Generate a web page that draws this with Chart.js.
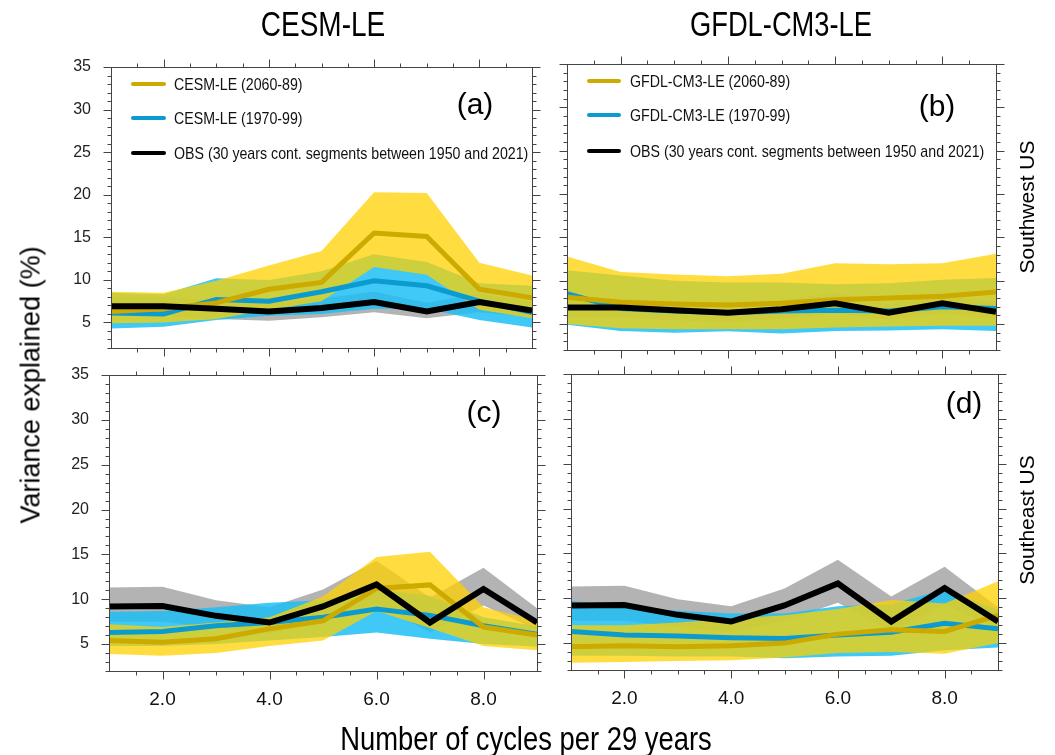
<!DOCTYPE html>
<html>
<head>
<meta charset="utf-8">
<script src="https://cdn.jsdelivr.net/npm/chart.js@4.4.0/dist/chart.umd.min.js"></script>
<style>
html,body{margin:0;padding:0;background:#fff;}
#wrap{position:relative;width:1055px;height:755px;overflow:hidden;background:#fff;font-family:"Liberation Sans",Arial,sans-serif;}
#wrap canvas{position:absolute;left:0;top:0;}
.t{position:absolute;white-space:nowrap;color:#000;line-height:1;}
.lg{position:absolute;height:4px;}
</style>
</head>
<body>
<div id="wrap">
<canvas id="pa" width="1055" height="755"></canvas>
<canvas id="pb" width="1055" height="755"></canvas>
<canvas id="pc" width="1055" height="755"></canvas>
<canvas id="pd" width="1055" height="755"></canvas>
</div>
<script>
// ---------------- DATA ----------------
const xVals = [1, 2, 3, 4, 5, 6, 7, 8, 9];
const xTickVals = [2, 4, 6, 8];
const yTickVals = [5, 10, 15, 20, 25, 30, 35];

const columnTitles = ['CESM-LE', 'GFDL-CM3-LE'];
const rowTitles = ['Southwest US', 'Southeast US'];
const panelLetters = ['(a)', '(b)', '(c)', '(d)'];
const legendCESM = ['CESM-LE (2060-89)', 'CESM-LE (1970-99)', 'OBS (30 years cont. segments between 1950 and 2021)'];
const legendGFDL = ['GFDL-CM3-LE (2060-89)', 'GFDL-CM3-LE (1970-99)', 'OBS (30 years cont. segments between 1950 and 2021)'];
const yTitle = 'Variance explained (%)';
const xTitle = 'Number of cycles per 29 years';

// Observations (shared by both columns of a row)
const swObs   = [6.9, 6.9, 6.6, 6.3, 6.7, 7.4, 6.3, 7.4, 6.4];
const swObsHi = [8.0, 8.0, 7.6, 7.3, 7.8, 8.6, 7.3, 8.4, 7.4];
const swObsLo = [5.8, 5.8, 5.4, 5.2, 5.6, 6.2, 5.5, 6.2, 5.6];
const seObs   = [9.2, 9.25, 8.15, 7.4, 9.2, 11.65, 7.4, 11.15, 7.4];
const seObsHi = [11.3, 11.4, 9.9, 9.1, 11.1, 14.3, 10.2, 13.5, 9.0];
const seObsLo = [7.5, 7.5, 6.8, 6.2, 7.5, 9.5, 6.3, 9.3, 6.6];

// (a) CESM-LE, Southwest US
const aFut   = [6.3, 6.6, 7.3, 8.9, 9.7, 15.5, 15.1, 8.9, 7.9];
const aFutHi = [8.6, 8.5, 9.9, 11.7, 13.4, 20.3, 20.2, 12.0, 10.5];
const aFutLo = [4.9, 5.0, 5.4, 6.5, 7.5, 11.5, 10.6, 6.5, 5.5];
const aHis   = [6.1, 6.0, 7.7, 7.5, 8.6, 9.9, 9.3, 7.5, 6.2];
const aHisHi = [8.5, 8.3, 10.2, 10.0, 11.0, 13.0, 12.1, 9.6, 9.3];
const aHisLo = [4.3, 4.5, 5.3, 5.8, 6.0, 6.6, 6.6, 5.3, 4.4];

// (b) GFDL-CM3-LE, Southwest US
const bFut   = [8.1, 7.5, 7.3, 7.2, 7.4, 7.8, 8.0, 8.2, 8.7];
const bFutHi = [12.8, 11.0, 10.7, 10.5, 10.8, 12.0, 11.9, 12.0, 13.1];
const bFutLo = [5.0, 4.5, 4.4, 4.4, 4.4, 4.6, 4.7, 4.8, 4.8];
const bHis   = [8.5, 6.8, 6.5, 6.3, 6.5, 6.6, 6.5, 7.0, 6.8];
const bHisHi = [11.2, 10.6, 10.0, 9.8, 9.8, 9.6, 9.7, 10.1, 10.3];
const bHisLo = [4.9, 4.2, 4.0, 4.15, 3.9, 4.2, 4.25, 4.4, 4.2];

// (c) CESM-LE, Southeast US
const cFut   = [5.4, 5.2, 5.6, 6.7, 7.6, 11.2, 11.6, 6.9, 6.0];
const cFutHi = [7.2, 6.9, 7.4, 8.0, 10.3, 14.7, 15.3, 9.1, 7.6];
const cFutLo = [3.9, 3.7, 4.0, 4.8, 5.4, 8.7, 6.8, 4.8, 4.3];
const cHis   = [6.3, 6.4, 7.05, 7.4, 8.0, 8.9, 8.2, 7.05, 6.1];
const cHisHi = [8.6, 8.7, 9.1, 9.6, 9.9, 11.1, 10.4, 8.0, 7.0];
const cHisLo = [4.8, 4.8, 5.0, 5.4, 5.8, 6.3, 5.6, 5.0, 4.7];

// (d) GFDL-CM3-LE, Southeast US
const dFut   = [4.6, 4.7, 4.6, 4.7, 5.0, 6.0, 6.5, 6.3, 8.1];
const dFutHi = [7.0, 7.0, 7.3, 7.7, 8.1, 8.8, 9.8, 9.4, 11.9];
const dFutLo = [2.8, 2.9, 3.0, 3.1, 3.4, 3.9, 4.0, 3.8, 5.0];
const dHis   = [6.3, 5.9, 5.8, 5.6, 5.5, 5.9, 6.2, 7.2, 6.6];
const dHisHi = [9.7, 9.0, 8.6, 8.3, 8.3, 9.1, 9.3, 11.0, 8.7];
const dHisLo = [3.6, 3.6, 3.5, 3.5, 3.3, 3.5, 3.6, 4.2, 4.5];

// ---------------- STYLE ----------------
const W = 1055, H = 755;
const COL = {
  futLine: '#ccaa00', futBand: 'rgba(255,210,0,0.75)',
  hisLine: '#0b9bd0', hisBand: 'rgba(30,190,245,0.85)',
  obsLine: '#000000', obsBand: 'rgba(160,160,160,0.8)'
};
const REG = '"Liberation Sans",Arial,sans-serif';
const YW = 60, YRW = 12, XH = 40, XTH = 12;

const pts = arr => xVals.map((x, i) => ({x: x, y: arr[i]}));

const frameTicks = {
  id: 'frameTicks',
  afterDraw(chart) {
    const ctx = chart.ctx, a = chart.chartArea, xs = chart.scales.x, ys = chart.scales.y;
    ctx.save();
    ctx.strokeStyle = '#444';
    ctx.lineWidth = 1;
    const L = Math.round(a.left) + 0.5, R = Math.round(a.right) + 0.5;
    const T = Math.round(a.top) + 0.5, B = Math.round(a.bottom) + 0.5;
    ctx.strokeRect(L, T, R - L, B - T);
    ctx.beginPath();
    for (let k = 3; k <= 17; k++) {
      const v = k / 2;
      const px = Math.round(xs.getPixelForValue(v)) + 0.5;
      const len = (k % 4 === 0) ? 8 : 4;
      ctx.moveTo(px, B); ctx.lineTo(px, B + len);
      ctx.moveTo(px, T); ctx.lineTo(px, T - len);
    }
    for (let v = 2; v <= 35; v++) {
      const py = Math.round(ys.getPixelForValue(v)) + 0.5;
      const len = (v % 5 === 0) ? 8 : 4;
      ctx.moveTo(L, py); ctx.lineTo(L - len, py);
      ctx.moveTo(R, py); ctx.lineTo(R + len, py);
    }
    ctx.stroke();
    ctx.restore();
  }
};

function makePanel(id, rect, s, showX, showY) {
  const hidden = {borderWidth: 0, borderColor: 'transparent', pointRadius: 0, fill: false};
  const datasets = [
    Object.assign({data: pts(s.obsLo), order: 40}, hidden),
    Object.assign({}, hidden, {data: pts(s.obsHi), order: 40, fill: '-1', backgroundColor: COL.obsBand}),
    Object.assign({data: pts(s.hisLo), order: 30}, hidden),
    Object.assign({}, hidden, {data: pts(s.hisHi), order: 30, fill: '-1', backgroundColor: COL.hisBand}),
    Object.assign({data: pts(s.futLo), order: 20}, hidden),
    Object.assign({}, hidden, {data: pts(s.futHi), order: 20, fill: '-1', backgroundColor: COL.futBand}),
    {data: pts(s.his), order: 3, borderColor: COL.hisLine, borderWidth: 5, pointRadius: 0, fill: false, tension: 0},
    {data: pts(s.fut), order: 2, borderColor: COL.futLine, borderWidth: 5, pointRadius: 0, fill: false, tension: 0},
    {data: pts(s.obs), order: 1, borderColor: COL.obsLine, borderWidth: 6, pointRadius: 0, fill: false, tension: 0}
  ];
  const noGrid = {display: false, drawTicks: false};
  new Chart(document.getElementById(id), {
    type: 'line',
    data: {datasets: datasets},
    options: {
      responsive: false, animation: false, devicePixelRatio: 1,
      layout: {padding: {left: rect.L - YW, right: W - rect.R - YRW, top: rect.T - XTH, bottom: H - rect.B - XH}},
      plugins: {legend: {display: false}, tooltip: {enabled: false}, filler: {drawTime: 'beforeDatasetsDraw'}},
      elements: {line: {borderCapStyle: 'butt', borderJoinStyle: 'miter'}},
      scales: {
        x: {
          type: 'linear', position: 'bottom', min: 1, max: 9,
          grid: noGrid, border: {display: false},
          afterBuildTicks: sc => { sc.ticks = xTickVals.map(v => ({value: v})); },
          afterFit: sc => { sc.height = XH; },
          ticks: {display: showX, padding: 17, maxRotation: 0, autoSkip: false, color: '#111',
                  font: {family: REG, size: 19}, callback: v => Number(v).toFixed(1)}
        },
        x2: {
          type: 'linear', position: 'top', min: 1, max: 9,
          grid: noGrid, border: {display: false}, ticks: {display: false},
          afterFit: sc => { sc.height = XTH; }
        },
        y: {
          type: 'linear', position: 'left', min: 2, max: 35,
          grid: noGrid, border: {display: false},
          afterBuildTicks: sc => { sc.ticks = yTickVals.map(v => ({value: v})); },
          afterFit: sc => { sc.width = YW; },
          ticks: {display: showY, padding: 20, color: '#222', font: {family: REG, size: 16}}
        },
        y2: {
          type: 'linear', position: 'right', min: 2, max: 35,
          grid: noGrid, border: {display: false}, ticks: {display: false},
          afterFit: sc => { sc.width = YRW; }
        }
      }
    },
    plugins: [frameTicks]
  });
}

const RECT = {
  a: {L: 111, R: 532, T: 67, B: 348},
  b: {L: 567, R: 996, T: 64, B: 350},
  c: {L: 109, R: 537, T: 375, B: 671},
  d: {L: 571, R: 998, T: 374, B: 670}
};

makePanel('pa', RECT.a, {obs: swObs, obsHi: swObsHi, obsLo: swObsLo, fut: aFut, futHi: aFutHi, futLo: aFutLo, his: aHis, hisHi: aHisHi, hisLo: aHisLo}, false, true);
makePanel('pb', RECT.b, {obs: swObs, obsHi: swObsHi, obsLo: swObsLo, fut: bFut, futHi: bFutHi, futLo: bFutLo, his: bHis, hisHi: bHisHi, hisLo: bHisLo}, false, false);
makePanel('pc', RECT.c, {obs: seObs, obsHi: seObsHi, obsLo: seObsLo, fut: cFut, futHi: cFutHi, futLo: cFutLo, his: cHis, hisHi: cHisHi, hisLo: cHisLo}, true, true);
makePanel('pd', RECT.d, {obs: seObs, obsHi: seObsHi, obsLo: seObsLo, fut: dFut, futHi: dFutHi, futLo: dFutLo, his: dHis, hisHi: dHisHi, hisLo: dHisLo}, true, false);

// ---------------- TEXT OVERLAYS ----------------
const wrap = document.getElementById('wrap');
function addText(txt, x, y, size, transform, extra) {
  const d = document.createElement('div');
  d.className = 't';
  d.textContent = txt;
  d.style.left = x + 'px';
  d.style.top = y + 'px';
  d.style.fontSize = size + 'px';
  d.style.transform = transform;
  if (extra) Object.assign(d.style, extra);
  wrap.appendChild(d);
  return d;
}
const CENTER = 'translate(-50%,-50%)';
const ROT = 'translate(-50%,-50%) rotate(-90deg)';
addText(columnTitles[0], 323, 23, 35, CENTER + ' scaleX(0.8)');
addText(columnTitles[1], 781, 23, 35, CENTER + ' scaleX(0.78)');
addText(rowTitles[0], 1026, 207, 21, ROT);
addText(rowTitles[1], 1026, 520, 21, ROT);
addText(yTitle, 31, 385, 27, ROT);
addText(xTitle, 526, 738, 33, CENTER + ' scaleX(0.83)');
addText(panelLetters[0], 475, 104, 30, CENTER);
addText(panelLetters[1], 937, 106, 30, CENTER);
addText(panelLetters[2], 484, 412, 30, CENTER);
addText(panelLetters[3], 964, 403, 30, CENTER);

function addLegend(names, x0, x1, tx, ys) {
  const cols = [COL.futLine, COL.hisLine, COL.obsLine];
  names.forEach((n, i) => {
    const s = document.createElement('div');
    s.className = 'lg';
    s.style.left = x0 + 'px';
    s.style.width = (x1 - x0) + 'px';
    s.style.top = (ys[i] - 2) + 'px';
    s.style.background = cols[i];
    s.style.borderRadius = '2px';
    wrap.appendChild(s);
    addText(n, tx, ys[i], 17, 'translateY(-50%) scaleX(0.835)', {transformOrigin: '0 50%', color: '#111'});
  });
}
addLegend(legendCESM, 131, 166, 174, [84, 118, 153]);
addLegend(legendGFDL, 587, 621, 630, [81, 115, 151]);
</script>
</body>
</html>
